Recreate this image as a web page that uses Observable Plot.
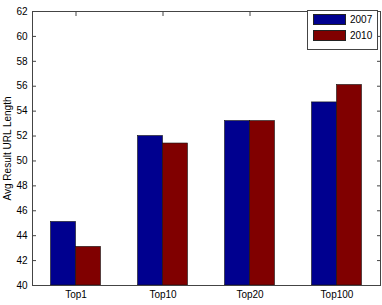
<!DOCTYPE html>
<html>
<head>
<meta charset="utf-8">
<script src="https://cdn.jsdelivr.net/npm/d3@7"></script>
<script src="https://cdn.jsdelivr.net/npm/@observablehq/plot@0.6"></script>
<style>
  html, body { margin: 0; padding: 0; background: #fff; }
  #wrap { position: relative; width: 382px; height: 305px; }
  #legend { position: absolute; left: 307px; top: 10px; width: 69px; height: 38px;
    border: 1px solid #444; background: #fff; font: 10px "Liberation Sans", Arial, sans-serif; color: #000; }
  .item { position: absolute; left: 5px; display: flex; align-items: center; }
  .sw { width: 33px; height: 11px; margin-right: 4px; box-sizing: border-box; border: 0.6px solid #222; }
</style>
</head>
<body>
<div id="wrap"></div>
<script>
const categories = ["Top1", "Top10", "Top20", "Top100"];
const series = ["2007", "2010"];
const values2007 = [45.1, 52.0, 53.2, 54.7];
const values2010 = [43.1, 51.4, 53.2, 56.1];
const colors = ["#00008F", "#800000"];
const yTicks = [40, 42, 44, 46, 48, 50, 52, 54, 56, 58, 60, 62];

const W = 382, H = 305, mL = 32, mR = 2, mT = 11, mB = 20;
const bw = (W - mL - mR) / categories.length;
const barW = bw * 0.287;

const d07 = categories.map((c, i) => ({cat: c, v: values2007[i]}));
const d10 = categories.map((c, i) => ({cat: c, v: values2010[i]}));

const font = '"Liberation Sans", Arial, sans-serif';
const chart = Plot.plot({
  width: W, height: H,
  marginLeft: mL, marginRight: mR, marginTop: mT, marginBottom: mB,
  style: {fontFamily: font, fontSize: "10px", color: "#000", background: "#fff"},
  x: {type: "band", domain: categories, padding: 0},
  y: {domain: [40, 62]},
  marks: [
    Plot.barY(d07, {x: "cat", y1: 40, y2: "v", fill: colors[0], stroke: "#111", strokeWidth: 0.6,
      insetLeft: bw / 2 - barW, insetRight: bw / 2}),
    Plot.barY(d10, {x: "cat", y1: 40, y2: "v", fill: colors[1], stroke: "#111", strokeWidth: 0.6,
      insetLeft: bw / 2, insetRight: bw / 2 - barW}),
    Plot.frame({stroke: "#444"}),
    Plot.axisY({anchor: "left", ticks: yTicks, tickSize: -4, tickPadding: 9, stroke: "#444",
      label: "Avg Result URL Length", labelAnchor: "center", labelArrow: "none", labelOffset: 29}),
    Plot.axisY({anchor: "right", ticks: yTicks, tickSize: -4, tickFormat: () => "", stroke: "#444", label: null}),
    Plot.axisX({anchor: "bottom", tickSize: 0, tickPadding: 5, label: null}),
    Plot.axisX({anchor: "top", tickSize: -4, tickFormat: () => "", stroke: "#444", label: null})
  ]
});
const wrap = document.getElementById("wrap");
wrap.appendChild(chart);

const legend = document.createElement("div");
legend.id = "legend";
series.forEach((s, i) => {
  const item = document.createElement("div");
  item.className = "item";
  item.style.top = (8 + i * 16 - 5) + "px";
  const sw = document.createElement("span");
  sw.className = "sw";
  sw.style.background = colors[i];
  const t = document.createElement("span");
  t.textContent = s;
  item.appendChild(sw); item.appendChild(t);
  legend.appendChild(item);
});
wrap.appendChild(legend);
</script>
</body>
</html>
